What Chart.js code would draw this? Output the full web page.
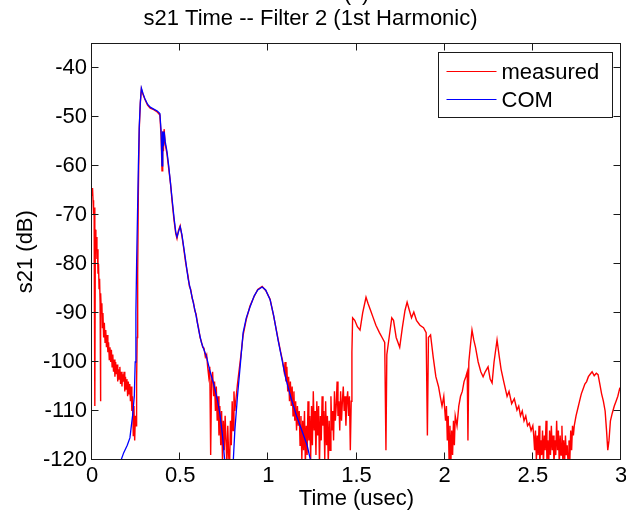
<!DOCTYPE html>
<html>
<head>
<meta charset="utf-8">
<script src="https://cdn.jsdelivr.net/npm/chart.js@4.4.0/dist/chart.umd.min.js"></script>
<style>body{margin:0;background:#fff}</style>
</head>
<body>
<canvas id="s21Chart" width="626" height="520"></canvas>
<script>
const xTicks = [0, 0.5, 1, 1.5, 2, 2.5, 3];
const yTicks = [-120, -110, -100, -90, -80, -70, -60, -50, -40];

// measured s21 (time, dB)
const measuredT = [
  0.000,0.003,0.006,0.009,0.012,0.015,0.017,0.019,0.022,0.025,0.028,0.031,0.034,0.037,0.040,0.043,0.046,0.048,0.050,0.053,
  0.056,0.059,0.062,0.066,0.070,0.074,0.078,0.082,0.086,0.090,0.094,0.098,0.102,0.106,0.110,0.114,0.118,0.122,0.126,0.130,
  0.134,0.138,0.142,0.146,0.150,0.154,0.158,0.162,0.166,0.170,0.174,0.178,0.182,0.186,0.190,0.194,0.198,0.202,0.206,0.210,
  0.214,0.218,0.222,0.226,0.230,0.234,0.238,0.242,0.246,0.250,0.253,0.256,0.259,0.263,0.268,0.274,0.280,0.290,0.300,0.315,
  0.330,0.350,0.370,0.385,0.392,0.397,0.401,0.405,0.409,0.415,0.425,0.435,0.445,0.455,0.465,0.475,0.482,0.490,0.500,0.510,
  0.520,0.530,0.537,0.545,0.552,0.560,0.568,0.575,0.583,0.590,0.598,0.605,0.613,0.620,0.628,0.635,0.643,0.650,0.656,0.662,
  0.668,0.673,0.678,0.684,0.690,0.695,0.700,0.705,0.710,0.715,0.720,0.725,0.730,0.735,0.740,0.745,0.750,0.755,0.760,0.765,
  0.770,0.775,0.780,0.785,0.790,0.795,0.800,0.805,0.810,0.818,0.825,0.835,0.845,0.857,0.875,0.896,0.920,0.940,0.965,0.985,
  1.010,1.030,1.055,1.070,1.080,1.090,1.095,1.100,1.105,1.110,1.115,1.120,1.125,1.130,1.135,1.140,1.145,1.150,1.155,1.160,
  1.165,1.170,1.175,1.180,1.185,1.190,1.195,1.200,1.205,1.210,1.215,1.220,1.225,1.230,1.235,1.240,1.245,1.250,1.255,1.260,
  1.265,1.270,1.275,1.280,1.285,1.290,1.295,1.300,1.305,1.310,1.315,1.320,1.325,1.330,1.335,1.340,1.345,1.350,1.355,1.360,
  1.365,1.370,1.375,1.380,1.385,1.390,1.395,1.400,1.405,1.410,1.415,1.420,1.425,1.430,1.435,1.440,1.445,1.450,1.455,1.460,
  1.465,1.470,1.474,1.478,1.490,1.505,1.520,1.535,1.554,1.565,1.580,1.595,1.610,1.630,1.645,1.660,1.667,1.672,1.685,1.700,
  1.710,1.725,1.745,1.760,1.775,1.787,1.800,1.812,1.825,1.840,1.860,1.880,1.895,1.902,1.908,1.920,1.935,1.950,1.965,1.975,
  1.985,1.995,2.005,2.010,2.015,2.020,2.025,2.030,2.035,2.040,2.045,2.050,2.055,2.060,2.070,2.080,2.090,2.100,2.110,2.120,
  2.128,2.132,2.137,2.145,2.155,2.165,2.175,2.190,2.205,2.218,2.230,2.246,2.258,2.269,2.280,2.297,2.310,2.320,2.335,2.354,
  2.365,2.380,2.395,2.410,2.420,2.430,2.440,2.450,2.460,2.470,2.480,2.490,2.500,2.505,2.510,2.515,2.520,2.525,2.530,2.535,
  2.540,2.545,2.550,2.555,2.560,2.565,2.570,2.575,2.580,2.585,2.590,2.595,2.600,2.605,2.610,2.615,2.620,2.625,2.630,2.635,
  2.640,2.645,2.650,2.655,2.660,2.665,2.670,2.675,2.680,2.685,2.690,2.695,2.700,2.705,2.710,2.715,2.720,2.725,2.730,2.735,
  2.745,2.755,2.765,2.775,2.785,2.795,2.805,2.815,2.825,2.836,2.848,2.860,2.870,2.880,2.890,2.900,2.910,2.918,2.925,2.932,
  2.940,2.950,2.962,2.972,2.982,2.992,3.000
];
const measuredDb = [
  -66,-64.5,-67,-70,-68.5,-72,-109,-73,-76,-74.5,-79,-77,-82,-80,-85,-83,-88,-108,-86,-90,
  -88,-93,-90,-95,-92,-96,-93.5,-97,-94.5,-98,-96,-99.5,-97,-100,-97.5,-101,-98.5,-102,-99.5,-103,
  -100,-102.5,-100.5,-104,-101.5,-103.5,-101,-104.5,-102,-105,-102.5,-104,-102,-106,-103,-105.5,-103.5,-107,-104,-106.5,
  -104.5,-108,-105,-110,-107,-115,-109,-116,-111,-113,-104,-95,-82,-65,-52.5,-47.2,-44.3,-45.5,-46.4,-47.6,
  -48.2,-48.5,-49,-49.6,-54,-61,-53,-57,-52.5,-55.5,-57.5,-60.5,-63.5,-67.5,-71,-73.8,-74.8,-73.2,-72.2,-74.3,
  -76.8,-79.5,-81,-82.5,-84.5,-85.2,-87,-87.8,-89.5,-90.2,-92,-93.2,-95,-95.8,-97,-97.2,-99,-98.5,-101,-103,
  -101,-119,-104,-102,-107,-104,-110,-105,-112,-107,-115,-109,-117,-110,-120,-112,-118,-111,-116,-121,
  -113,-119,-122,-112,-117,-108,-114,-106,-110,-107,-104.5,-101.5,-98.5,-94.5,-91.3,-88.6,-86.6,-85.2,-84.6,-85.4,
  -87.2,-90.6,-95.3,-98,-99.6,-102,-100,-104,-101,-106,-103,-108,-104,-109,-105,-111,-106,-112,-108,-114,
  -109,-113,-110,-117,-111,-120,-112,-118,-110,-121,-113,-119,-108,-116,-111,-120,-109,-117,-106,-114,
  -110,-119,-108,-115,-109,-121,-111,-116,-107,-113,-110,-120,-108,-117,-111,-121,-112,-118,-107,-114,
  -110,-116,-106,-112,-109,-104,-111,-108,-114,-106,-112,-108,-105,-110,-107,-113,-108,-106,-111,-107,
  -118,-108,-98,-91,-91.5,-92.8,-93.5,-90,-86.8,-88,-89.5,-91,-92.5,-94,-95,-96,-118,-98.5,-95,-91,
  -91.5,-95,-97,-93,-89.5,-87.8,-89.5,-91,-89.8,-91.5,-92.5,-93,-94,-115,-95,-94.5,-99,-103,-105,-107,
  -109,-107,-112,-109,-116,-111,-120,-113,-121,-114,-119,-112,-117,-111,-113,-109,-107,-106,-104,-103,
  -102,-116,-100,-97,-93.5,-95.5,-97,-100,-102,-103,-102,-101,-103.5,-104.3,-100,-95.5,-99,-101.5,-104,-107,
  -106,-108.5,-107.5,-109.8,-109,-111,-110,-112,-111,-113,-112.5,-114,-113,-115,-118,-114,-120,-115,-119,-113,
  -121,-116,-119,-114,-121,-115,-118,-112,-120,-116,-121,-114,-119,-113,-118,-115,-121,-116,-119,-112,
  -118,-114,-121,-115,-119,-113,-120,-116,-121,-115,-119,-117,-121,-116,-120,-114,-118,-113,-115,-113,
  -111,-109.5,-108,-106.5,-105.5,-104.5,-104,-103,-102.5,-102,-102.8,-102.3,-102.6,-104.5,-106.5,-108,-110,-114,-118,-116,
  -112,-110.5,-109,-108,-107,-105.5,-106
];

// COM model
const comT = [
  0.165,0.180,0.200,0.215,0.230,0.240,0.245,0.249,0.253,0.258,0.263,0.268,0.274,0.280,0.290,0.300,0.315,0.330,0.350,0.370,
  0.385,0.392,0.397,0.401,0.405,0.409,0.415,0.425,0.435,0.445,0.455,0.465,0.475,0.482,0.490,0.500,0.510,0.520,0.530,0.545,
  0.560,0.575,0.590,0.605,0.620,0.635,0.650,0.670,0.690,0.710,0.725,0.740,0.755,0.770,0.790,0.800,0.810,0.825,0.840,0.857,
  0.875,0.896,0.920,0.940,0.965,0.985,1.010,1.030,1.055,1.080,1.100,1.130,1.160,1.190,1.220,1.245,1.260
];
const comDb = [
  -120,-118.5,-117,-115.5,-111,-107,-100,-90,-80,-70,-60,-52,-47,-44.1,-45.3,-46.3,-47.4,-48,-48.4,-48.8,
  -49.3,-53,-60,-53,-56,-53,-55,-57,-60,-63.5,-67,-70.5,-73.5,-74.5,-73.5,-72.4,-74,-76.5,-79,-83,
  -85.5,-88,-90.5,-93.5,-96,-97.5,-99,-102,-104.5,-107.5,-110.5,-115,-121,-126,-126,-121,-114,-107,-101,-94,
  -91,-88.8,-86.5,-85.3,-84.7,-85.3,-87.3,-90.5,-95.5,-100,-103.5,-107.5,-111,-114,-117,-121,-124
];

const toPoints = (ts, ys) => ts.map((t, i) => ({x: t, y: ys[i]}));
const FONT = 'Liberation Sans, Arial, sans-serif';

// matlab style box with inward ticks + legend box
const framePlugin = {
  id: 'frame',
  afterDatasetsDraw(chart) {
    const {ctx, chartArea: a, scales} = chart;
    const L = Math.round(a.left) - 0.5, R = Math.round(a.right) - 0.5;
    const T = Math.round(a.top) + 0.5, B = Math.round(a.bottom) - 0.5;
    const tl = 7;
    ctx.save();
    ctx.strokeStyle = '#1a1a1a';
    ctx.lineWidth = 1;
    ctx.strokeRect(L, T, R - L, B - T);
    ctx.beginPath();
    xTicks.forEach(v => {
      const px = Math.round(scales.x.getPixelForValue(v)) - 0.5;
      ctx.moveTo(px, B); ctx.lineTo(px, B - tl);
      ctx.moveTo(px, T); ctx.lineTo(px, T + tl);
    });
    yTicks.forEach(v => {
      const py = Math.round(scales.y.getPixelForValue(v)) - 0.5;
      ctx.moveTo(L, py); ctx.lineTo(L + tl, py);
      ctx.moveTo(R, py); ctx.lineTo(R - tl, py);
    });
    ctx.stroke();

    // legend
    const bx = Math.round(a.right) - 182.5, by = Math.round(a.top) + 9.5;
    const bw = 174, bh = 65;
    ctx.fillStyle = '#fff';
    ctx.fillRect(bx, by, bw, bh);
    ctx.strokeRect(bx, by, bw, bh);
    ctx.font = '22px ' + FONT;
    ctx.textBaseline = 'middle';
    ctx.textAlign = 'left';
    chart.data.datasets.forEach((ds, i) => {
      const ly = by + 19 + i * 28;
      ctx.strokeStyle = ds.borderColor;
      ctx.beginPath();
      ctx.moveTo(bx + 8, ly); ctx.lineTo(bx + 58, ly);
      ctx.stroke();
      ctx.fillStyle = '#000';
      ctx.fillText(ds.label, bx + 63, ly + 1);
    });
    ctx.restore();
  },
  afterDraw(chart) {
    // cut off caption at the very top
    const {ctx, chartArea: a} = chart;
    ctx.save();
    ctx.font = '22px ' + FONT;
    ctx.fillStyle = '#000';
    ctx.textAlign = 'center';
    ctx.textBaseline = 'alphabetic';
    ctx.fillText('(c)', (a.left + a.right) / 2, -0.5);
    ctx.restore();
  }
};

const ctx = document.getElementById('s21Chart').getContext('2d');
const s21Chart = new Chart(ctx, {
  type: 'line',
  data: {
    datasets: [{
      label: 'measured',
      data: toPoints(measuredT, measuredDb),
      borderColor: '#ff0000',
      borderWidth: 1.4,
      pointRadius: 0,
      tension: 0,
      order: 2,
      clip: 0
    }, {
      label: 'COM',
      data: toPoints(comT, comDb),
      borderColor: '#0000ff',
      borderWidth: 1.3,
      pointRadius: 0,
      tension: 0,
      order: 1,
      clip: 0
    }]
  },
  options: {
    responsive: false,
    animation: false,
    devicePixelRatio: 1,
    layout: { padding: { right: 5 } },
    plugins: {
      legend: { display: false },
      tooltip: { enabled: false },
      title: {
        display: true,
        text: 's21 Time -- Filter 2 (1st Harmonic)',
        color: '#000',
        font: { family: FONT, size: 22, weight: 'normal' },
        padding: { top: 6, bottom: 11 }
      }
    },
    scales: {
      x: {
        type: 'linear',
        min: 0,
        max: 3,
        afterBuildTicks: s => { s.ticks = xTicks.map(v => ({ value: v })); },
        afterFit: s => { s.height = 60; s.paddingLeft = 0; s.paddingRight = 0; },
        grid: { display: false, drawTicks: false },
        border: { display: false },
        ticks: {
          color: '#000', padding: 3, maxRotation: 0, autoSkip: false,
          font: { family: FONT, size: 22 },
          callback: v => String(v)
        },
        title: {
          display: true, text: 'Time (usec)', color: '#000',
          font: { family: FONT, size: 22 },
          padding: { top: 0, bottom: 8 }
        }
      },
      y: {
        type: 'linear',
        min: -120,
        max: -35,
        afterBuildTicks: s => { s.ticks = yTicks.map(v => ({ value: v })); },
        afterFit: s => { s.width = 92; },
        grid: { display: false, drawTicks: false },
        border: { display: false },
        ticks: {
          color: '#000', padding: 5, autoSkip: false,
          font: { family: FONT, size: 22 },
          callback: v => String(v)
        },
        title: {
          display: true, text: 's21 (dB)', color: '#000',
          font: { family: FONT, size: 22 },
          padding: { top: 13, bottom: 0 }
        }
      }
    }
  },
  plugins: [framePlugin]
});
</script>
</body>
</html>
